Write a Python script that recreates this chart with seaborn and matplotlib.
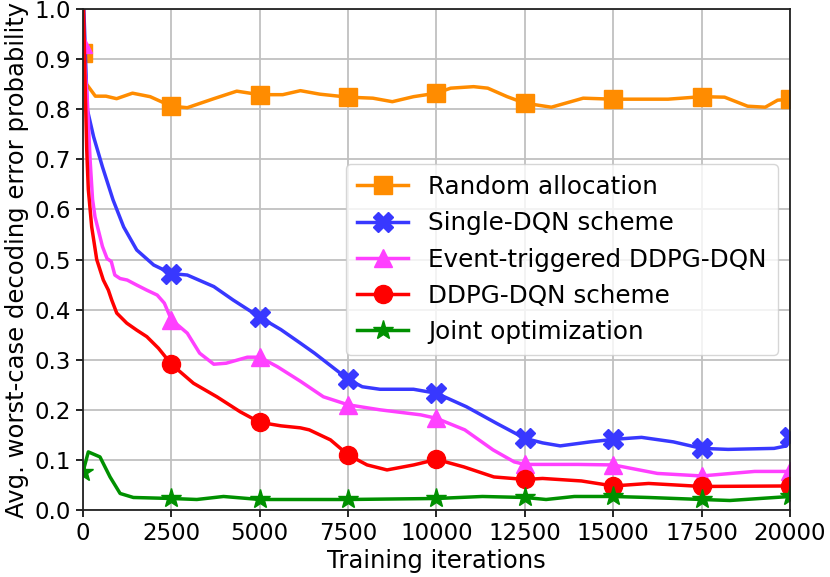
import numpy as np
import matplotlib
matplotlib.use('Agg')
import matplotlib.pyplot as plt
import seaborn as sns

# 读图得到的数据 (x: training iterations)
random_x = [0, 100, 350, 650, 950, 1400, 1900, 2500, 2950, 3700, 4350, 5000, 5650, 6150,
            6700, 7500, 8200, 8750, 9350, 10000, 10400, 11050, 11450, 12000, 12500, 13250,
            14150, 15000, 15700, 16550, 17500, 18150, 18800, 19300, 19650, 20000]
random_y = [0.912, 0.850, 0.826, 0.826, 0.821, 0.832, 0.825, 0.806, 0.803, 0.821, 0.836, 0.829,
            0.829, 0.837, 0.830, 0.824, 0.822, 0.815, 0.825, 0.832, 0.842, 0.845, 0.842, 0.825,
            0.812, 0.804, 0.822, 0.820, 0.820, 0.820, 0.825, 0.824, 0.806, 0.804, 0.818, 0.820]

single_x = [0, 120, 300, 550, 850, 1150, 1520, 2000, 2500, 2950, 3700, 4250, 5000, 5600, 6150,
            6550, 7500, 7900, 8400, 9350, 10000, 10850, 11700, 12500, 13000, 13500, 14350,
            15000, 15800, 16700, 17500, 18250, 19550, 19900, 20000]
single_y = [1.05, 0.800, 0.745, 0.685, 0.619, 0.565, 0.519, 0.489, 0.472, 0.469, 0.446, 0.419,
            0.385, 0.360, 0.333, 0.313, 0.261, 0.246, 0.241, 0.241, 0.233, 0.206, 0.173, 0.143,
            0.134, 0.128, 0.136, 0.141, 0.145, 0.136, 0.123, 0.121, 0.123, 0.128, 0.145]

event_x = [0, 120, 200, 270, 340, 550, 680, 800, 900, 1050, 1250, 1520, 1800, 2100, 2300, 2500,
           2950, 3300, 3700, 4050, 4650, 5000, 5500, 6150, 6800, 7500, 8400, 9550, 10000, 10800,
           11600, 12200, 12500, 14000, 15000, 16250, 17500, 19000, 20000]
event_y = [0.93, 0.82, 0.70, 0.62, 0.585, 0.526, 0.502, 0.496, 0.469, 0.462, 0.459, 0.449,
           0.439, 0.429, 0.413, 0.380, 0.353, 0.313, 0.291, 0.293, 0.305, 0.305, 0.286, 0.257,
           0.226, 0.210, 0.200, 0.190, 0.183, 0.160, 0.120, 0.096, 0.091, 0.091, 0.090, 0.073,
           0.068, 0.077, 0.077]

ddpg_x = [0, 60, 105, 150, 246, 388, 575, 717, 813, 955, 1238, 1521, 1805, 2133, 2500, 3125,
          3787, 4448, 5000, 5600, 6150, 6400, 7000, 7500, 8036, 8600, 9357, 10000, 10775, 11624,
          12500, 13000, 14100, 15000, 16000, 17500, 20000]
ddpg_y = [1.05, 0.85, 0.72, 0.64, 0.565, 0.500, 0.459, 0.439, 0.419, 0.393, 0.373, 0.359,
          0.346, 0.323, 0.291, 0.253, 0.226, 0.196, 0.175, 0.168, 0.164, 0.160, 0.140, 0.110,
          0.090, 0.080, 0.090, 0.101, 0.086, 0.066, 0.061, 0.063, 0.058, 0.048, 0.053, 0.047,
          0.048]

joint_x = [0, 150, 480, 765, 1050, 1425, 2500, 3220, 3975, 5000, 6000, 7500, 10000, 11300,
           12500, 13100, 13900, 15000, 16000, 17500, 18300, 20000]
joint_y = [0.076, 0.116, 0.106, 0.066, 0.033, 0.025, 0.023, 0.021, 0.027, 0.021, 0.021, 0.021,
           0.023, 0.027, 0.025, 0.021, 0.027, 0.027, 0.025, 0.021, 0.019, 0.027]

labels = ['Random allocation', 'Single-DQN scheme', 'Event-triggered DDPG-DQN',
          'DDPG-DQN scheme', 'Joint optimization']
series = [(random_x, random_y), (single_x, single_y), (event_x, event_y),
          (ddpg_x, ddpg_y), (joint_x, joint_y)]
colors = ['#ff8c00', '#3838ff', '#ff40ff', '#ff0000', '#009000']
markers = ['s', 'X', '^', 'o', '*']
msizes = [13, 14, 13, 13, 15]

fig = plt.figure(figsize=(8.3, 5.77), dpi=100)
ax = fig.add_axes([0.1, 0.1161, 0.8518, 0.8683])

for (xs, ys), lab, c, m, ms in zip(series, labels, colors, markers, msizes):
    # 2500 간격마다 마커
    mk = [i for i, v in enumerate(xs) if v % 2500 == 0]
    sns.lineplot(x=xs, y=ys, ax=ax, sort=False, errorbar=None, color=c, label=lab,
                 linewidth=2.5, marker=m, markersize=ms, markevery=mk,
                 markeredgecolor=c, markeredgewidth=1)

ax.set_xlim(0, 20000)
ax.set_ylim(0, 1)
ax.set_xticks(np.arange(0, 20001, 2500))
ax.set_yticks(np.arange(0, 1.01, 0.1))
ax.yaxis.set_major_formatter(matplotlib.ticker.FormatStrFormatter('%.1f'))
ax.tick_params(labelsize=16.5, length=5, width=1.2)
ax.grid(True, color='#c0c0c0', linewidth=1.3)
ax.set_axisbelow(True)
for s in ax.spines.values():
    s.set_linewidth(1.3)
    s.set_color('#222222')

ax.set_xlabel('Training iterations', fontsize=17.5, labelpad=3)
ax.set_ylabel('Avg. worst-case decoding error probability', fontsize=17.5, labelpad=4)
ax.legend(loc='center right', fontsize=17.7, handlelength=2.1, handletextpad=0.8,
          borderpad=0.45)

fig.savefig('out.png', dpi=100)
